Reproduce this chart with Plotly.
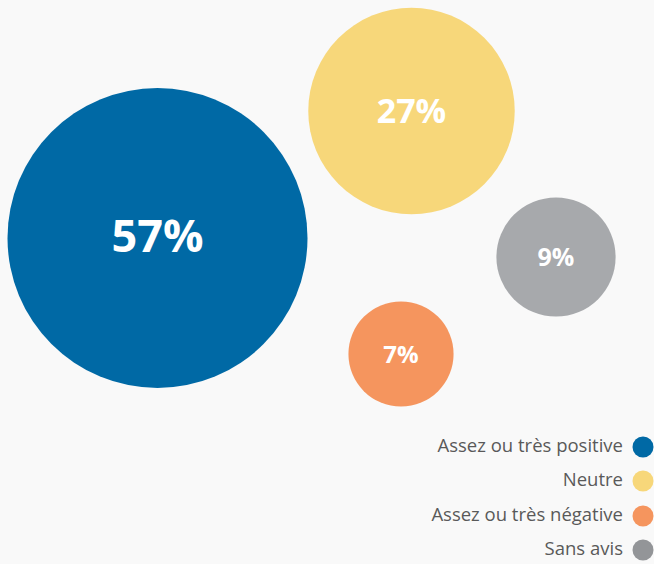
import plotly.graph_objects as go

# ---- data ----
categories = ["Assez ou très positive", "Neutre", "Assez ou très négative", "Sans avis"]
values = [57, 27, 7, 9]
labels = ["57%", "27%", "7%", "9%"]

# ---- layout / style (pixel-space positions) ----
bubble_x = [157.5, 411.5, 401, 556]
bubble_y = [238, 111, 354, 257]
bubble_colors = ["#0069a5", "#f7d77a", "#f5955e", "#a7a9ac"]
legend_colors = ["#0069a5", "#f7d77a", "#f5955e", "#939598"]
label_sizes = [45, 34, 24, 25]
label_dy = 3  # small vertical nudge so labels sit at the bubble centre
legend_marker_x = 643
legend_text_x = 623
legend_y = [447, 481, 516, 550]

W, H = 654, 564
max_diam = 300
sizeref = 2.0 * max(values) / (max_diam ** 2)

fig = go.Figure()
fig.add_trace(go.Scatter(
    x=bubble_x, y=bubble_y, mode="markers",
    marker=dict(size=values, sizemode="area", sizeref=sizeref,
                color=bubble_colors, opacity=1, line=dict(width=0)),
    hoverinfo="skip", showlegend=False, cliponaxis=False,
))
fig.add_trace(go.Scatter(
    x=bubble_x, y=[y + label_dy for y in bubble_y], mode="text",
    text=labels, textposition="middle center",
    textfont=dict(family="Open Sans", color="white", size=label_sizes, weight="bold"),
    hoverinfo="skip", showlegend=False, cliponaxis=False,
))
fig.add_trace(go.Scatter(
    x=[legend_marker_x] * len(categories), y=legend_y, mode="markers",
    marker=dict(size=21, color=legend_colors, line=dict(width=0)),
    hoverinfo="skip", showlegend=False, cliponaxis=False,
))
fig.add_trace(go.Scatter(
    x=[legend_text_x] * len(categories), y=legend_y, mode="text",
    text=categories, textposition="middle left",
    textfont=dict(family="Open Sans", color="#595959", size=18.5),
    hoverinfo="skip", showlegend=False, cliponaxis=False,
))

fig.update_layout(
    width=W, height=H,
    margin=dict(l=0, r=0, t=0, b=0),
    paper_bgcolor="#f9f9f9", plot_bgcolor="#f9f9f9",
    xaxis=dict(range=[0, W], visible=False, fixedrange=True),
    yaxis=dict(range=[H, 0], visible=False, fixedrange=True),
)
fig.write_html("out.html", config={"displayModeBar": False},
               post_script="document.body.style.margin='0';document.body.style.background='#f9f9f9';")
